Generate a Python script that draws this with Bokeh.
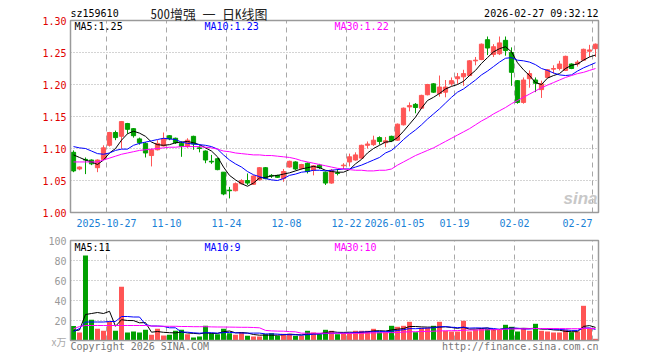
from bokeh.plotting import figure
from bokeh.models import ColumnDataSource, Range1d
from bokeh.core.properties import value
from bokeh.embed import file_html
from bokeh.resources import INLINE

# ---------------- data ----------------
opens = [1.094, 1.068, 1.083, 1.082, 1.070, 1.083, 1.105, 1.125, 1.119, 1.139,
         1.131, 1.115, 1.108, 1.089, 1.098, 1.104, 1.120, 1.116, 1.108, 1.103,
         1.119, 1.101, 1.096, 1.080, 1.084, 1.063, 1.035, 1.034, 1.045, 1.050,
         1.044, 1.051, 1.070, 1.058, 1.058, 1.053, 1.071, 1.079, 1.069, 1.077,
         1.066, 1.074, 1.063, 1.046, 1.062, 1.073, 1.079, 1.082, 1.085, 1.105,
         1.106, 1.117, 1.109, 1.119, 1.113, 1.137, 1.165, 1.169, 1.163, 1.184,
         1.201, 1.186, 1.188, 1.201, 1.209, 1.212, 1.214, 1.237, 1.239, 1.270,
         1.247, 1.248, 1.269, 1.250, 1.206, 1.172, 1.209, 1.207, 1.192, 1.211,
         1.224, 1.225, 1.222, 1.232, 1.232, 1.238, 1.252, 1.256]
highs = [1.097, 1.072, 1.086, 1.083, 1.083, 1.105, 1.126, 1.128, 1.143, 1.140,
         1.132, 1.117, 1.110, 1.100, 1.113, 1.125, 1.121, 1.117, 1.111, 1.116,
         1.120, 1.105, 1.097, 1.090, 1.085, 1.063, 1.040, 1.047, 1.052, 1.061,
         1.058, 1.071, 1.071, 1.060, 1.059, 1.068, 1.081, 1.080, 1.076, 1.078,
         1.074, 1.076, 1.064, 1.068, 1.068, 1.077, 1.092, 1.094, 1.106, 1.111,
         1.120, 1.119, 1.118, 1.120, 1.139, 1.164, 1.172, 1.171, 1.184, 1.201,
         1.202, 1.214, 1.207, 1.211, 1.218, 1.223, 1.238, 1.243, 1.264, 1.275,
         1.263, 1.275, 1.275, 1.258, 1.207, 1.211, 1.222, 1.211, 1.206, 1.224,
         1.230, 1.237, 1.245, 1.233, 1.238, 1.256, 1.262, 1.264]
lows = [1.063, 1.066, 1.060, 1.074, 1.063, 1.082, 1.103, 1.113, 1.100, 1.123,
        1.117, 1.106, 1.086, 1.072, 1.097, 1.103, 1.113, 1.107, 1.087, 1.101,
        1.098, 1.094, 1.077, 1.076, 1.066, 1.027, 1.022, 1.033, 1.044, 1.043,
        1.043, 1.050, 1.052, 1.054, 1.054, 1.048, 1.070, 1.066, 1.067, 1.061,
        1.058, 1.068, 1.043, 1.045, 1.058, 1.068, 1.072, 1.081, 1.084, 1.100,
        1.104, 1.106, 1.102, 1.110, 1.112, 1.136, 1.158, 1.155, 1.162, 1.183,
        1.187, 1.181, 1.180, 1.198, 1.201, 1.198, 1.213, 1.230, 1.238, 1.246,
        1.243, 1.246, 1.245, 1.198, 1.170, 1.170, 1.195, 1.188, 1.179, 1.210,
        1.217, 1.222, 1.221, 1.224, 1.228, 1.237, 1.243, 1.243]
closes = [1.065, 1.071, 1.082, 1.076, 1.082, 1.101, 1.125, 1.117, 1.142, 1.130,
          1.120, 1.109, 1.093, 1.098, 1.108, 1.115, 1.115, 1.109, 1.103, 1.113,
          1.107, 1.100, 1.082, 1.079, 1.067, 1.029, 1.034, 1.045, 1.050, 1.046,
          1.057, 1.070, 1.053, 1.057, 1.055, 1.064, 1.080, 1.068, 1.075, 1.064,
          1.073, 1.070, 1.046, 1.066, 1.061, 1.074, 1.087, 1.090, 1.105, 1.107,
          1.113, 1.111, 1.112, 1.112, 1.138, 1.163, 1.167, 1.164, 1.183, 1.200,
          1.188, 1.196, 1.196, 1.206, 1.212, 1.217, 1.237, 1.238, 1.263, 1.257,
          1.259, 1.265, 1.253, 1.219, 1.172, 1.207, 1.217, 1.202, 1.201, 1.223,
          1.225, 1.232, 1.244, 1.225, 1.235, 1.255, 1.254, 1.263]

ma5 = [1.090, 1.086, 1.082, 1.079, 1.075, 1.082, 1.093, 1.100, 1.113, 1.123,
       1.127, 1.124, 1.119, 1.110, 1.106, 1.105, 1.106, 1.109, 1.110, 1.111,
       1.109, 1.106, 1.101, 1.096, 1.087, 1.071, 1.058, 1.051, 1.045, 1.041,
       1.046, 1.054, 1.055, 1.057, 1.058, 1.060, 1.062, 1.065, 1.068, 1.070,
       1.072, 1.070, 1.066, 1.064, 1.063, 1.063, 1.067, 1.076, 1.083, 1.093,
       1.100, 1.105, 1.110, 1.111, 1.117, 1.127, 1.138, 1.149, 1.163, 1.175,
       1.180, 1.186, 1.193, 1.197, 1.200, 1.205, 1.214, 1.222, 1.233, 1.242,
       1.251, 1.256, 1.259, 1.251, 1.234, 1.223, 1.214, 1.203, 1.200, 1.210,
       1.214, 1.217, 1.225, 1.230, 1.232, 1.238, 1.243, 1.246]
ma10 = [1.103, 1.101, 1.100, 1.096, 1.092, 1.091, 1.093, 1.097, 1.099, 1.099,
        1.105, 1.108, 1.110, 1.112, 1.114, 1.116, 1.115, 1.114, 1.110, 1.108,
        1.107, 1.106, 1.105, 1.103, 1.099, 1.090, 1.082, 1.076, 1.071, 1.064,
        1.059, 1.056, 1.053, 1.051, 1.050, 1.053, 1.058, 1.060, 1.063, 1.064,
        1.066, 1.066, 1.065, 1.066, 1.067, 1.068, 1.068, 1.071, 1.074, 1.078,
        1.082, 1.086, 1.093, 1.097, 1.105, 1.114, 1.122, 1.129, 1.137, 1.146,
        1.154, 1.162, 1.171, 1.180, 1.188, 1.193, 1.200, 1.207, 1.215, 1.221,
        1.228, 1.235, 1.241, 1.242, 1.238, 1.237, 1.235, 1.231, 1.225, 1.222,
        1.218, 1.215, 1.214, 1.215, 1.221, 1.226, 1.230, 1.234]
ma30 = [1.079, 1.079, 1.079, 1.079, 1.079, 1.082, 1.085, 1.088, 1.091, 1.093,
        1.095, 1.097, 1.098, 1.099, 1.100, 1.101, 1.102, 1.102, 1.103, 1.103,
        1.103, 1.103, 1.102, 1.101, 1.099, 1.096, 1.095, 1.093, 1.092, 1.091,
        1.090, 1.090, 1.089, 1.089, 1.088, 1.087, 1.086, 1.084, 1.081, 1.079,
        1.077, 1.075, 1.073, 1.071, 1.069, 1.068, 1.067, 1.066, 1.066, 1.065,
        1.065, 1.066, 1.066, 1.068, 1.074, 1.079, 1.084, 1.089, 1.093, 1.097,
        1.101, 1.106, 1.111, 1.116, 1.121, 1.126, 1.131, 1.137, 1.143, 1.148,
        1.154, 1.159, 1.164, 1.170, 1.175, 1.180, 1.185, 1.190, 1.195, 1.199,
        1.203, 1.207, 1.211, 1.214, 1.217, 1.219, 1.222, 1.225]

volumes = [14.5, 8.0, 85.0, 20.7, 11.7, 9.7, 19.0, 9.7, 53.7, 8.0,
           9.0, 8.0, 10.7, 5.7, 11.7, 5.0, 5.7, 9.7, 10.7, 6.3,
           3.0, 4.0, 14.7, 7.3, 6.3, 11.7, 7.3, 5.7, 8.3, 4.7,
           4.0, 4.0, 6.3, 7.3, 4.7, 6.7, 6.7, 4.7, 4.7, 9.7,
           8.0, 6.3, 10.7, 9.7, 6.3, 7.3, 7.3, 9.7, 9.7, 9.7,
           11.7, 8.3, 8.3, 14.7, 13.7, 14.7, 18.7, 8.3, 12.7, 12.7,
           14.7, 18.7, 9.7, 9.0, 9.0, 19.7, 9.0, 10.7, 11.7, 11.7,
           10.7, 10.7, 15.7, 13.7, 9.0, 11.7, 9.7, 16.7, 9.7, 9.0,
           8.0, 8.0, 10.7, 8.3, 9.0, 34.7, 11.7, 1.7]
vma5 = [9.7, 10.5, 26.0, 27.0, 28.0, 27.0, 29.2, 14.2, 20.8, 20.0,
        19.9, 17.7, 17.9, 8.3, 9.0, 8.2, 7.8, 7.6, 8.6, 7.5,
        7.1, 6.7, 7.7, 7.1, 7.1, 8.8, 9.5, 7.7, 7.9, 7.5,
        6.0, 5.3, 5.5, 5.3, 5.3, 5.8, 6.3, 6.0, 5.5, 6.5,
        6.8, 6.7, 7.9, 8.9, 8.2, 8.1, 8.3, 8.1, 8.1, 8.7,
        9.6, 9.8, 9.5, 10.5, 11.3, 11.9, 14.0, 14.0, 13.6, 13.4,
        13.4, 13.4, 13.7, 13.0, 12.2, 13.2, 11.3, 11.5, 12.0, 12.6,
        10.8, 11.1, 12.1, 12.5, 12.0, 12.2, 12.0, 12.2, 11.4, 11.4,
        10.6, 10.3, 9.1, 8.8, 8.8, 14.1, 14.9, 13.1]
vma10 = [9.0, 12.0, 18.5, 18.5, 18.5, 18.5, 19.0, 19.0, 24.0, 24.0,
         23.5, 23.5, 16.0, 14.5, 14.5, 14.1, 12.7, 12.7, 8.4, 8.3,
         7.7, 7.3, 7.7, 7.8, 7.3, 7.9, 8.1, 7.7, 7.5, 7.3,
         7.4, 7.4, 6.6, 6.6, 6.4, 5.9, 5.8, 5.7, 5.4, 5.9,
         6.3, 6.5, 7.0, 7.2, 7.4, 7.4, 7.5, 8.0, 8.5, 8.5,
         8.8, 9.0, 8.8, 9.3, 10.0, 10.8, 11.9, 11.8, 12.1, 12.4,
         12.7, 13.7, 13.9, 13.3, 12.8, 13.3, 12.4, 12.6, 12.5, 12.4,
         12.0, 11.2, 11.8, 12.3, 12.3, 11.5, 11.5, 12.1, 11.9, 11.7,
         11.4, 11.1, 10.6, 10.1, 10.1, 12.4, 12.6, 11.1]
vma30 = [11.7, 14.0, 15.0, 15.0, 15.0, 15.0, 15.0, 15.0, 15.0, 15.0,
         15.0, 15.0, 15.0, 14.5, 14.3, 14.2, 14.2, 14.2, 14.0, 14.0,
         13.8, 13.8, 13.8, 13.6, 13.5, 13.5, 13.4, 13.3, 13.2, 13.2,
         13.0, 12.7, 10.1, 9.6, 9.4, 9.3, 8.9, 8.7, 7.3, 7.3,
         7.3, 7.3, 7.3, 7.3, 7.3, 7.2, 7.2, 7.2, 7.2, 7.5,
         7.6, 7.7, 7.8, 7.9, 7.9, 8.5, 8.7, 8.8, 9.0, 9.1,
         9.3, 9.6, 9.7, 9.8, 9.9, 10.3, 10.4, 10.5, 10.6, 10.7,
         10.9, 11.0, 11.3, 11.5, 11.6, 11.7, 11.8, 12.0, 12.0, 12.0,
         12.0, 11.9, 11.9, 11.8, 11.8, 12.1, 12.1, 11.9]

date_labels = ["2025-10-27", "11-10", "11-24", "12-08", "12-22",
               "2026-01-05", "01-19", "02-02", "02-27"]
date_index = [6, 16, 26, 36, 46, 54, 64, 74, 87]

price_ticks = [1.00, 1.05, 1.10, 1.15, 1.20, 1.25, 1.30]
price_tick_labels = ["1.00", "1.05", "1.10", "1.15", "1.20", "1.25", "1.30"]
volume_ticks = [20, 40, 60, 80, 100]
volume_tick_labels = ["20", "40", "60", "80", "100"]

code_text = "sz159610"
title_text = "500增强 一 日K线图"
time_text = "2026-02-27 09:32:12"
price_ma_text = ["MA5:1.25", "MA10:1.23", "MA30:1.22"]
vol_ma_text = ["MA5:11", "MA10:9", "MA30:10"]
unit_text = "x万"
copy_text = "Copyright 2026 SINA.COM"
url_text = "http://finance.sina.com.cn"

# ---------------- style / layout ----------------
FONT = "DejaVu Sans Mono"
CJK_MONO = "'Noto Sans Mono CJK SC', 'Noto Sans CJK SC'"
UP = "#ff5555"
DOWN = "#00a000"
GRID = "#a8a8a8"
FRAME = "#9a9a9a"
MA_COLORS = ["#000000", "#0000ff", "#ff00ff"]
N = len(closes)
W, H = 660, 360
FL, FR = 70, 598          # frames left / right (page px)
FT1, FB1 = 20, 212        # price frame top / bottom
FT2, FB2 = 240, 340       # volume frame top / bottom
P_LO, P_HI = price_ticks[0], price_ticks[-1]
V_LO, V_HI = 0, volume_ticks[-1]


def dx(sx):
    return -0.5 + (sx - FL) * N / (FR - FL)


def dy1(sy):
    return P_LO + (FB1 - sy) * (P_HI - P_LO) / (FB1 - FT1)


def dy2(sy):
    return V_LO + (FB2 - sy) * (V_HI - V_LO) / (FB2 - FT2)


colors = [UP if c >= o else DOWN for o, c in zip(opens, closes)]
src = ColumnDataSource(dict(
    x=list(range(N)), o=opens, h=highs, l=lows, c=closes,
    top=[max(o, c) for o, c in zip(opens, closes)],
    bot=[min(o, c) for o, c in zip(opens, closes)],
    color=colors, vol=volumes, ma5=ma5, ma10=ma10, ma30=ma30,
    vma5=vma5, vma10=vma10, vma30=vma30))

p = figure(width=W, height=H, x_range=Range1d(dx(0), dx(W)), y_range=Range1d(dy1(H), dy1(0)),
           output_backend="svg", toolbar_location=None,
           x_axis_location=None, y_axis_location=None, min_border=0)
p.extra_y_ranges = {"vol": Range1d(dy2(H), dy2(0))}
p.outline_line_color = None
p.grid.visible = False
p.background_fill_color = "white"
p.border_fill_color = "white"

xl, xr = -0.5, N - 0.5
grid_x = [i - 0.5 for i in date_index]


def txt(xs, ys, texts, color, align="left", size="10px", font=FONT, style="normal",
        rng="default"):
    p.text(x=xs, y=ys, text=texts, text_color=color, text_align=align,
           text_baseline="middle", text_font=value(font), text_font_size=value(size),
           text_font_style=style, y_range_name=rng)


# ---------------- grids & frames ----------------
inner_p = price_ticks[1:-1]
p.segment(x0=[xl] * len(inner_p), x1=[xr] * len(inner_p), y0=inner_p, y1=inner_p,
          line_color=GRID, line_dash="1 2", line_width=1)
p.segment(x0=grid_x, x1=grid_x, y0=[P_LO] * len(grid_x), y1=[P_HI] * len(grid_x),
          line_color=GRID, line_dash="5 4", line_width=1)
inner_v = volume_ticks[:-1]
p.segment(x0=[xl] * len(inner_v), x1=[xr] * len(inner_v), y0=inner_v, y1=inner_v,
          line_color=GRID, line_dash="1 2", line_width=1, y_range_name="vol")
p.segment(x0=grid_x, x1=grid_x, y0=[V_LO] * len(grid_x), y1=[V_HI] * len(grid_x),
          line_color=GRID, line_dash="5 4", line_width=1, y_range_name="vol")

# ---------------- candles ----------------
p.segment(x0="x", y0="l", x1="x", y1="h", color="color", line_width=1, source=src)
p.vbar(x="x", width=0.7, top="top", bottom="bot", fill_color="color",
       line_color="color", line_width=1, source=src)
for key, col in zip(["ma5", "ma10", "ma30"], MA_COLORS):
    p.line(x="x", y=key, color=col, line_width=1, source=src)

# ---------------- volume ----------------
p.vbar(x="x", width=0.83, top="vol", bottom=0, fill_color="color", line_color=None,
       source=src, y_range_name="vol")
for key, col in zip(["vma5", "vma10", "vma30"], MA_COLORS):
    p.line(x="x", y=key, color=col, line_width=1, source=src, y_range_name="vol")

# frames
p.quad(left=[xl], right=[xr], bottom=[P_LO], top=[P_HI], fill_color=None,
       line_color=FRAME, line_width=1.5)
p.quad(left=[xl], right=[xr], bottom=[V_LO], top=[V_HI], fill_color=None,
       line_color=FRAME, line_width=1.5, y_range_name="vol")

# ---------------- texts ----------------
txt([dx(66)] * len(price_ticks), price_ticks, price_tick_labels, "#e00000", align="right")
txt([dx(66)] * len(volume_ticks), volume_ticks, volume_tick_labels, "#999999", align="right",
    rng="vol")
txt([dx(66)], [dy2(341)], [unit_text], "#aaaaaa", align="right", size="10px",
    font="Noto Sans CJK SC", rng="vol")

txt([dx(70)], [dy1(13)], [code_text], "#000000")
txt([dx(150)], [dy1(12.5)], [title_text], "#222222", size="13px", font=CJK_MONO)
txt([dx(598)], [dy1(13)], [time_text], "#000000", align="right")

ma_x = [dx(74), dx(204), dx(334)]
for t, col, xx in zip(price_ma_text, MA_COLORS, ma_x):
    txt([xx], [dy1(26)], [t], col)
for t, col, xx in zip(vol_ma_text, MA_COLORS, ma_x):
    txt([xx], [dy2(247)], [t], col, rng="vol")

lab_x = grid_x[:-1]
txt(lab_x, [dy1(222)] * len(lab_x), date_labels[:-1], "#1a7fd6", align="center")
txt([grid_x[-1]], [dy1(222)], [date_labels[-1]], "#1a7fd6", align="right")

txt([dx(597)], [dy1(198)], ["sina"], "#c8c8c8", align="right", size="17px",
    font="Liberation Sans", style="bold italic")

txt([dx(70)], [dy2(346)], [copy_text], "#777777", rng="vol")
txt([dx(598)], [dy2(346)], [url_text], "#777777", align="right", rng="vol")

open("out.html", "w").write(file_html(p, INLINE))
